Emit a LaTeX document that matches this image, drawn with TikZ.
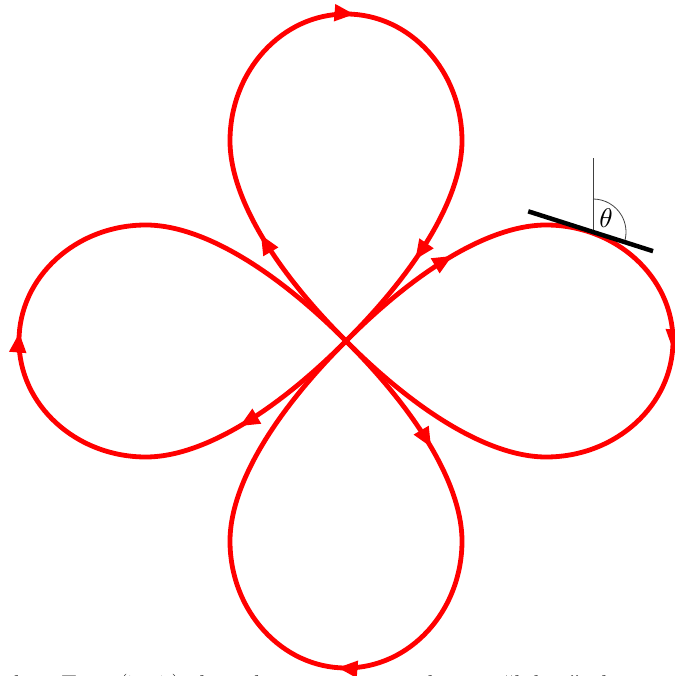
\documentclass[tikz,border=0pt]{standalone}
\usetikzlibrary{arrows.meta,decorations.markings}
\tikzset{
  lobe/.style={draw=red,line width=4.8pt,line join=round},
  arrowmarks/.style={postaction={decorate},decoration={markings,
    mark=at position 0.16 with {\arrow{Triangle[length=20pt,width=16pt]}},
    mark=at position 0.51 with {\arrow{Triangle[length=20pt,width=16pt]}}}},
  arrowmarksthree/.style={postaction={decorate},decoration={markings,
    mark=at position 0.16 with {\arrow{Triangle[length=20pt,width=16pt]}},
    mark=at position 0.51 with {\arrow{Triangle[length=20pt,width=16pt]}},
    mark=at position 0.875 with {\arrow{Triangle[length=20pt,width=16pt]}}}},
  tangentline/.style={draw=black,line width=4.5pt},
  thinline/.style={draw=black!75,line width=0.8pt},
}
\newcommand{\lobepath}{(0,0) .. controls (80,80) and (150,116) .. (200,116)
  .. controls (270,116) and (327,64) .. (327,0)
  .. controls (327,-64) and (270,-116) .. (200,-116)
  .. controls (150,-116) and (80,-80) .. (0,0)}
\begin{document}
\begin{tikzpicture}[x=1pt,y=1pt]
\useasboundingbox (-346,-335) rectangle (328,341);
% four lobes
\path[lobe,arrowmarks] \lobepath;
\begin{scope}[rotate=90]
\path[lobe,arrowmarksthree] \lobepath;
\end{scope}
\begin{scope}[rotate=180]
\path[lobe,arrowmarks] \lobepath;
\end{scope}
\begin{scope}[rotate=270]
\path[lobe,arrowmarks] \lobepath;
\end{scope}
% tangent line and angle
\coordinate (tp) at (247,109);
\draw[thinline] (tp) -- ++(0,74);
\draw[thinline] (tp) ++(0,33) arc[start angle=90,end angle=-17.7,radius=33];
\draw[tangentline] (tp) ++(162.3:68) -- ++(-17.7:131);
\node[inner sep=0pt] (theta) at (260,123) {\scalebox{2.7}{$\theta$}};
% cut-off text line
\node[anchor=base west,inner sep=0pt,font=\fontsize{27}{32}\selectfont] (txt) at (-342,-353)
  {\makebox[651pt][s]{that Eq. (7.27) describes a curve with two ``lobes'' that i}};
\end{tikzpicture}
\end{document}
